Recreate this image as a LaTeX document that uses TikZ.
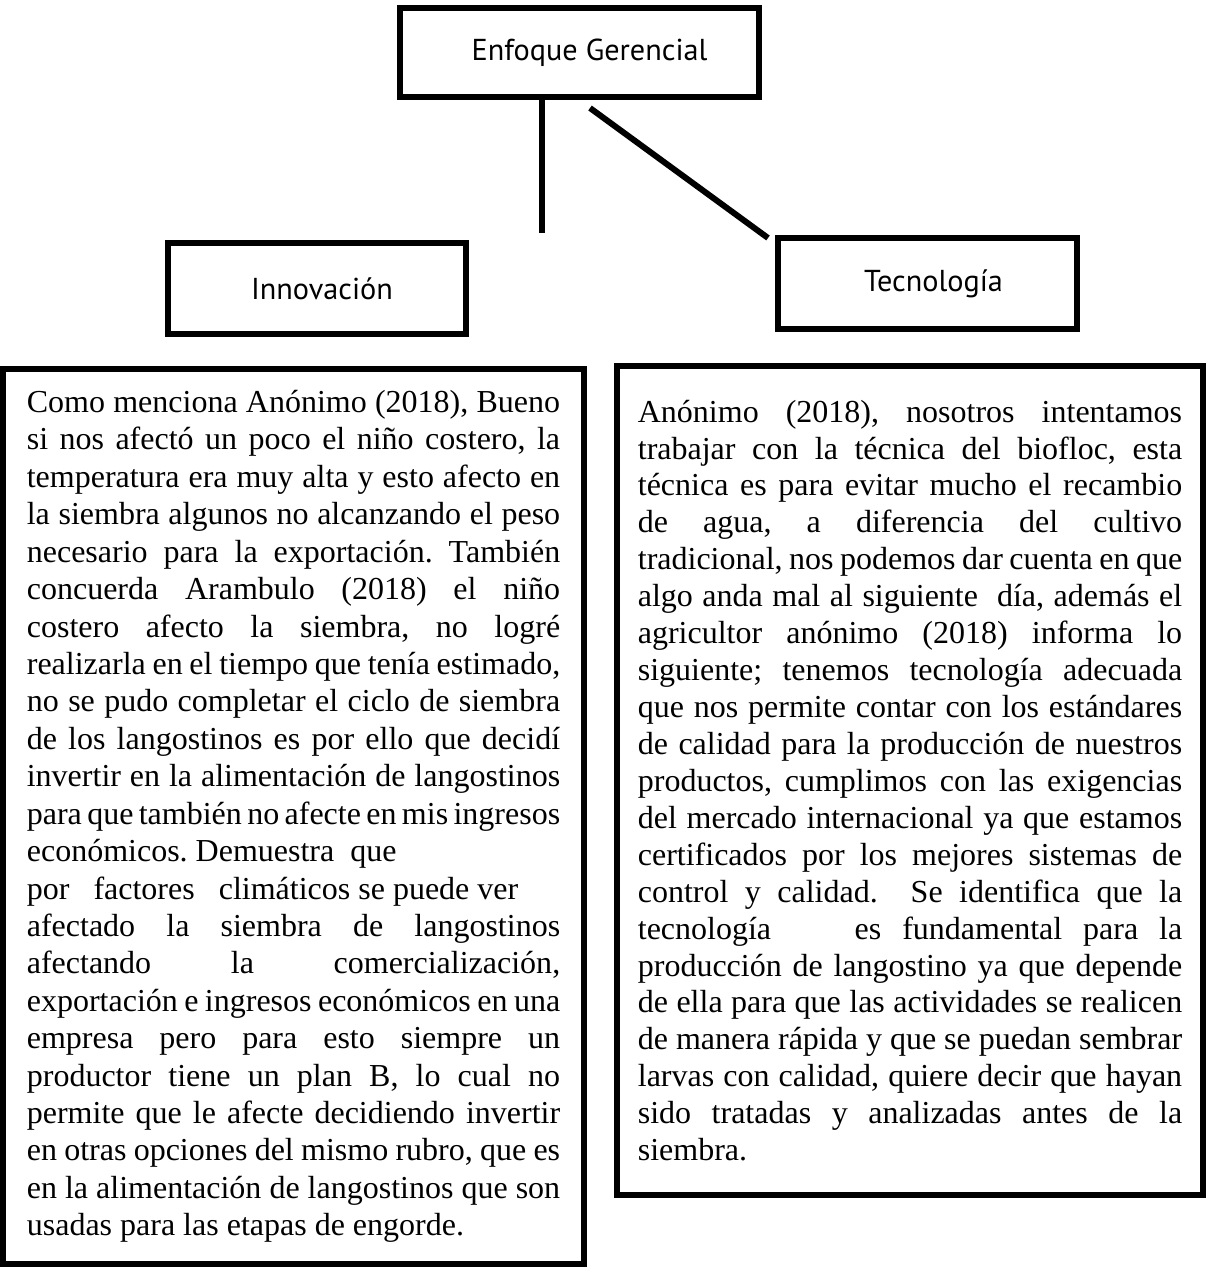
\documentclass[tikz,border=0pt]{standalone}
\usepackage{fontspec}
\setmainfont{Liberation Serif}
\setsansfont{PT Sans}
\usetikzlibrary{positioning}
\begin{document}
\begin{tikzpicture}[
  x=0.01cm, y=-0.01cm,
  headbox/.style={rectangle, draw, line width=0.06cm, inner sep=0pt, minimum height=0.91cm, font=\sffamily\fontsize{8.6}{10}\selectfont},
  textbox/.style={rectangle, draw, line width=0.06cm, inner sep=0pt, align=justify,
    font={\fontsize{9.1}{#1}\selectfont\frenchspacing\hyphenpenalty10000 \exhyphenpenalty10000 \tolerance10000 }},
  textbox/.default=10.64,
  link/.style={line width=0.06cm}
]
\useasboundingbox (0,0) rectangle (1206,1268);
\node[headbox, minimum width=3.59cm, minimum height=0.89cm] (enfoque) at (579.5,52.5) {\hspace*{0.2cm}Enfoque Gerencial};
\node[headbox, minimum width=2.98cm] (innovacion) at (317,288.5) {\hspace*{0.1cm}Innovación};
\node[headbox, minimum width=2.99cm] (tecnologia) at (927.5,283.5) {\hspace*{0.12cm}Tecnología};

\node[textbox, minimum width=5.81cm, minimum height=8.95cm, text width=5.33cm] (innotext) at (293.5,816.5) {%
Como menciona Anónimo (2018), Bueno\linebreak
si nos afectó un poco el niño costero, la\linebreak
temperatura era muy alta y esto afecto en\linebreak
la siembra algunos no alcanzando el peso\linebreak
necesario para la exportación. También\linebreak
concuerda Arambulo (2018) el niño\linebreak
costero afecto la siembra, no logré\linebreak
realizarla en el tiempo que tenía estimado,\linebreak
no se pudo completar el ciclo de siembra\linebreak
de los langostinos es por ello que decidí\linebreak
invertir en la alimentación de langostinos\linebreak
para que también no afecte en mis ingresos\linebreak
económicos. Demuestra\ \ que\\
por\ \ \ factores\ \ \ climáticos se puede ver\\
afectado la siembra de langostinos\linebreak
afectando la comercialización,\linebreak
exportación e ingresos económicos en una\linebreak
empresa pero para esto siempre un\linebreak
productor tiene un plan B, lo cual no\linebreak
permite que le afecte decidiendo invertir\linebreak
en otras opciones del mismo rubro, que es\linebreak
en la alimentación de langostinos que son\linebreak
usadas para las etapas de engorde.};

\node[textbox=10.5, minimum width=5.86cm, minimum height=8.29cm, text width=5.44cm] (tecnotext) at (910,780.5) {%
Anónimo (2018), nosotros intentamos\linebreak
trabajar con la técnica del biofloc, esta\linebreak
técnica es para evitar mucho el recambio\linebreak
de agua, a diferencia del cultivo\linebreak
tradicional, nos podemos dar cuenta en que\linebreak
algo anda mal al siguiente\ \ día, además el\linebreak
agricultor anónimo (2018) informa lo\linebreak
siguiente; tenemos tecnología adecuada\linebreak
que nos permite contar con los estándares\linebreak
de calidad para la producción de nuestros\linebreak
productos, cumplimos con las exigencias\linebreak
del mercado internacional ya que estamos\linebreak
certificados por los mejores sistemas de\linebreak
control y calidad.\ \ Se identifica que la\linebreak
tecnología\ \ \ \ es fundamental para la\linebreak
producción de langostino ya que depende\linebreak
de ella\ para que las actividades se realicen\linebreak
de manera rápida y que se puedan sembrar\linebreak
larvas con calidad, quiere decir que hayan\linebreak
sido tratadas y analizadas antes de la\linebreak
siembra.};

\coordinate (stemend) at (542,233);
\coordinate (slantend) at (768,238);
\draw[link] (enfoque.south -| stemend) -- (stemend);
\draw[link] ([xshift=0.105cm,yshift=-0.08cm]enfoque.south) -- (slantend);
\end{tikzpicture}
\end{document}
